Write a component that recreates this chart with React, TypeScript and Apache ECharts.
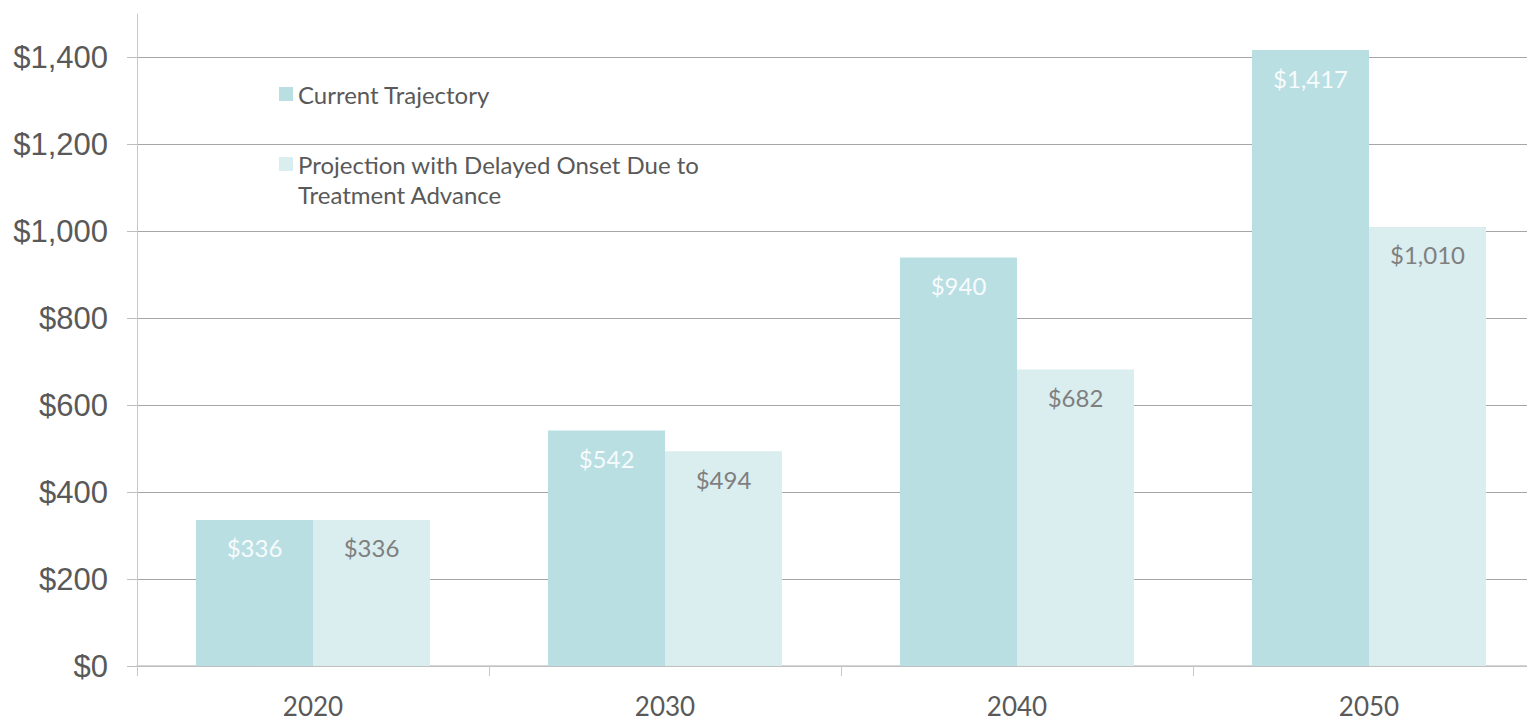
import React, { useEffect, useRef } from "react";
import * as echarts from "echarts";

const categories = ["2020", "2030", "2040", "2050"];
const seriesNames = [
  "Current Trajectory",
  "Projection with Delayed Onset Due to Treatment Advance",
];
const currentTrajectory = [336, 542, 940, 1417];
const delayedOnset = [336, 494, 682, 1010];
const yTicks = [0, 200, 400, 600, 800, 1000, 1200, 1400];
const axisTop = 1500;

const money = (v: number) => "$" + Number(v).toLocaleString("en-US");

export default function App() {
  const ref = useRef<HTMLDivElement>(null);
  useEffect(() => {
    if (!ref.current) return;
    const chart = echarts.init(ref.current, undefined, { renderer: "svg" });
    const labelFont = "Lato, 'Open Sans', sans-serif";
    chart.setOption({
      animation: false,
      backgroundColor: "#ffffff",
      grid: [
        { left: 137, right: 0, top: 14, bottom: 55, containLabel: false },
        { left: 137, right: 0, top: 57, bottom: 55, containLabel: false },
      ],
      legend: [
        {
          data: [seriesNames[0]],
          left: 279,
          top: 82,
          padding: 0,
          icon: "rect",
          itemWidth: 14,
          itemHeight: 14,
          selectedMode: false,
          textStyle: { color: "#595959", fontSize: 24, fontFamily: labelFont },
        },
        {
          data: [seriesNames[1]],
          left: 279,
          top: 119,
          padding: 0,
          icon: "rect",
          itemWidth: 14,
          itemHeight: 14,
          selectedMode: false,
          formatter: () => "\nProjection with Delayed Onset Due to\nTreatment Advance",
          textStyle: {
            color: "#595959",
            fontSize: 24,
            lineHeight: 30,
            fontFamily: labelFont,
          },
        },
      ],
      xAxis: [
        {
          type: "category",
          gridIndex: 0,
          data: categories,
          axisLine: { show: true, lineStyle: { color: "#c8c8c8", width: 1.5 } },
          axisTick: { show: true, length: 10, lineStyle: { color: "#c8c8c8" } },
          axisLabel: {
            color: "#595959",
            fontSize: 26,
            lineHeight: 24,
            fontFamily: labelFont,
            margin: 28,
          },
          splitLine: { show: false },
        },
        {
          type: "category",
          gridIndex: 1,
          data: categories,
          show: false,
        },
      ],
      yAxis: [
        {
          type: "value",
          gridIndex: 0,
          min: 0,
          max: axisTop,
          axisLine: { show: true, lineStyle: { color: "#c8c8c8" } },
          axisTick: { show: false },
          axisLabel: { show: false },
          splitLine: { show: false },
        },
        {
          type: "value",
          gridIndex: 1,
          min: yTicks[0],
          max: yTicks[yTicks.length - 1],
          interval: 200,
          axisLine: { show: false },
          axisTick: { show: true, length: 10, lineStyle: { color: "#bfbfbf" } },
          axisLabel: {
            color: "#595959",
            fontSize: 31,
            fontFamily: "'Liberation Sans', Arial, sans-serif",
            margin: 29,
            formatter: (v: number) => money(v),
          },
          splitLine: { show: true, lineStyle: { color: "#a6a6a6", width: 1 } },
        },
      ],
      series: [
        {
          name: seriesNames[0],
          type: "bar",
          xAxisIndex: 0,
          yAxisIndex: 0,
          data: currentTrajectory,
          barWidth: 117,
          barGap: "0%",
          itemStyle: { color: "#b9dfe3" },
          label: {
            show: true,
            position: "insideTop",
            distance: 16,
            color: "#f7fbfc",
            fontSize: 24,
            fontFamily: labelFont,
            formatter: (p: any) => money(p.value),
          },
        },
        {
          name: seriesNames[1],
          type: "bar",
          xAxisIndex: 0,
          yAxisIndex: 0,
          data: delayedOnset,
          barWidth: 117,
          barGap: "0%",
          itemStyle: { color: "#daedef" },
          label: {
            show: true,
            position: "insideTop",
            distance: 16,
            color: "#7f7f7f",
            fontSize: 24,
            fontFamily: labelFont,
            formatter: (p: any) => money(p.value),
          },
        },
      ],
    });
    return () => chart.dispose();
  }, []);
  return (
    <div
      style={{
        position: "absolute",
        left: 0,
        top: 0,
        width: 1527,
        height: 721,
        overflow: "hidden",
      }}
    >
      <div ref={ref} style={{ width: 1545, height: 721 }} />
    </div>
  );
}
